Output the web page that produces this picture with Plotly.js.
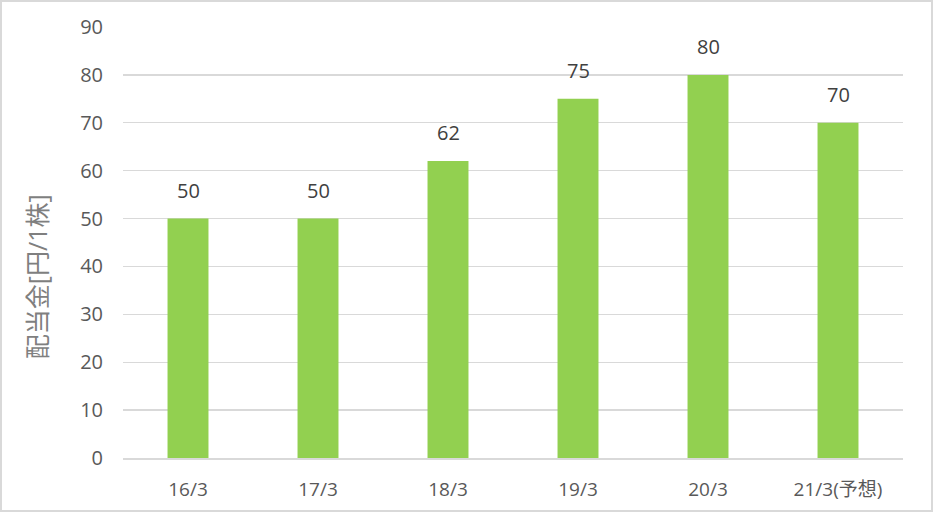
<!DOCTYPE html>
<html><head><meta charset="utf-8">
<script src="https://cdn.plot.ly/plotly-3.0.1.min.js"></script>
<style>
html,body{margin:0;padding:0;background:#fff;}
#wrap{width:933px;height:512px;box-sizing:border-box;border:2px solid #d9d9d9;overflow:hidden;}
#chart{width:929px;height:508px;}
</style></head>
<body><div id="wrap"><div id="chart"></div></div>
<script>
const categories = ['16/3','17/3','18/3','19/3','20/3','21/3(予想)'];
const dividends = [50, 50, 62, 75, 80, 70];
const yTicks = [0,10,20,30,40,50,60,70,80,90];

const FONT = '"Open Sans", "Noto Sans CJK JP", sans-serif';

const trace = {
  type: 'bar',
  x: categories,
  y: dividends,
  marker: {color: '#92D050'},
  width: 0.315,
  hoverinfo: 'none'
};

const annotations = categories.map((c, i) => ({
  x: c, y: dividends[i], xref: 'x', yref: 'y',
  text: String(dividends[i]), showarrow: false,
  yanchor: 'bottom', yshift: 13,
  font: {family: FONT, size: 20, color: '#404040'}
}));
annotations.push({
  xref: 'paper', yref: 'paper', x: -0.11, y: 0.42,
  text: '配当金[円/1株]', showarrow: false, textangle: -90,
  xanchor: 'center', yanchor: 'middle',
  font: {family: FONT, size: 25, color: '#7f7f7f'}
});

const layout = {
  width: 929, height: 508,
  margin: {l: 121, r: 28, t: 25, b: 52},
  paper_bgcolor: '#fff', plot_bgcolor: '#fff',
  showlegend: false,
  xaxis: {
    type: 'category',
    showgrid: false, zeroline: false,
    showline: true, linecolor: '#d9d9d9', linewidth: 1.5,
    ticks: 'outside', ticklen: 14, tickcolor: 'rgba(0,0,0,0)',
    tickfont: {family: FONT, size: 19, color: '#595959'}
  },
  yaxis: {
    range: [0, 90], tickvals: yTicks,
    showgrid: true, gridcolor: '#d9d9d9', gridwidth: 1.3,
    zeroline: false, showline: false,
    ticks: 'outside', ticklen: 15, tickcolor: 'rgba(0,0,0,0)',
    tickfont: {family: FONT, size: 20, color: '#595959'}
  },
  annotations: annotations
};

Plotly.newPlot('chart', [trace], layout, {displayModeBar: false, staticPlot: true});
</script></body></html>
